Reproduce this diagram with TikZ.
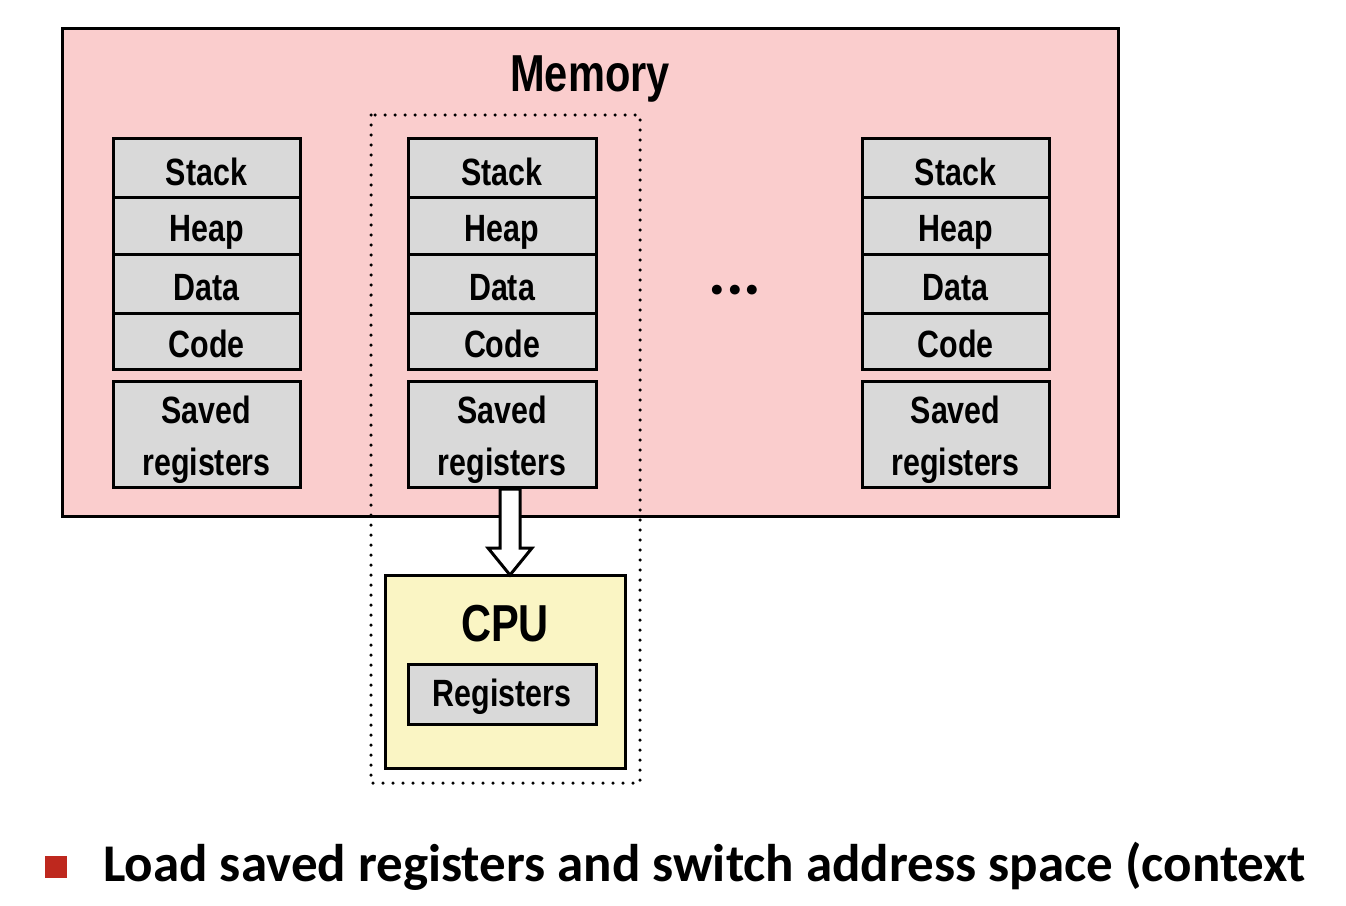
\documentclass[tikz,border=0pt]{standalone}
\usepackage{fontspec}
\setmainfont{Liberation Sans}
\newfontfamily\carl{Carlito}
\usetikzlibrary{arrows.meta}
\definecolor{mempink}{RGB}{250,205,205}
\definecolor{boxgray}{RGB}{217,217,217}
\definecolor{cpuyel}{RGB}{250,245,196}
\definecolor{bulred}{RGB}{190,40,30}
\newcommand{\nb}[1]{\scalebox{0.8}[1]{#1}}
\begin{document}
\begin{tikzpicture}[x=1pt,y=-1pt,
  seg/.style={draw=black,line width=3pt,fill=boxgray},
  lbl/.style={font=\fontsize{38}{40}\selectfont\bfseries,align=center,inner sep=0}]
\useasboundingbox (0,0) rectangle (1346,905);
\fill[white] (0,0) rectangle (1346,905);
\draw[line width=3pt,fill=mempink] (62,28) rectangle (1118,516);
\node[lbl,font=\fontsize{52}{54}\selectfont\bfseries] (mem) at (590,79) {\nb{Memory}};
\foreach \c/\xa/\xb in {a/113/300,b/408/596,c/862/1049}{
  \draw[seg] (\xa,138) rectangle (\xb,197);
  \draw[seg] (\xa,197) rectangle (\xb,254);
  \draw[seg] (\xa,254) rectangle (\xb,313);
  \draw[seg] (\xa,313) rectangle (\xb,369);
  \draw[seg] (\xa,381) rectangle (\xb,487);
  \node[lbl] (st\c) at ({(\xa+\xb)/2},172) {\nb{Stack}};
  \node[lbl] (hp\c) at ({(\xa+\xb)/2},232) {\nb{Heap}};
  \node[lbl] (dt\c) at ({(\xa+\xb)/2},288) {\nb{Data}};
  \node[lbl] (cd\c) at ({(\xa+\xb)/2},344) {\nb{Code}};
  \node[lbl,font=\fontsize{38}{52}\selectfont\bfseries] (sv\c) at ({(\xa+\xb)/2},440) {\nb{Saved}\\\nb{registers}};
}
\node[lbl,font=\carl\fontsize{66}{68}\selectfont\bfseries] (dots) at (735,290) {...};
\draw[line width=3pt,fill=cpuyel] (385,575) rectangle (625,768);
\node[lbl,font=\fontsize{52}{54}\selectfont\bfseries] (cpu) at (505,624) {\nb{CPU}};
\draw[seg] (408,664) rectangle (596,724);
\node[lbl] (reg) at (502,697) {\nb{Registers}};
\draw[line width=3.5pt,dash pattern=on 0pt off 10pt,line cap=round] (371,115) rectangle (640,783);
\coordinate (tb) at (510,575);
\draw[line width=3pt,fill=white,line join=miter]
  (500,489) -- (520,489) -- (520,548) -- (532,548) -- (tb) -- (488,548) -- (500,548) -- cycle;
\fill[bulred] (45,856) rectangle (67,878);
\node[anchor=base west,inner sep=0,font=\carl\fontsize{53}{55}\selectfont\bfseries] (txt) at (103,881) {Load saved registers and switch address space (context};
\end{tikzpicture}
\end{document}
